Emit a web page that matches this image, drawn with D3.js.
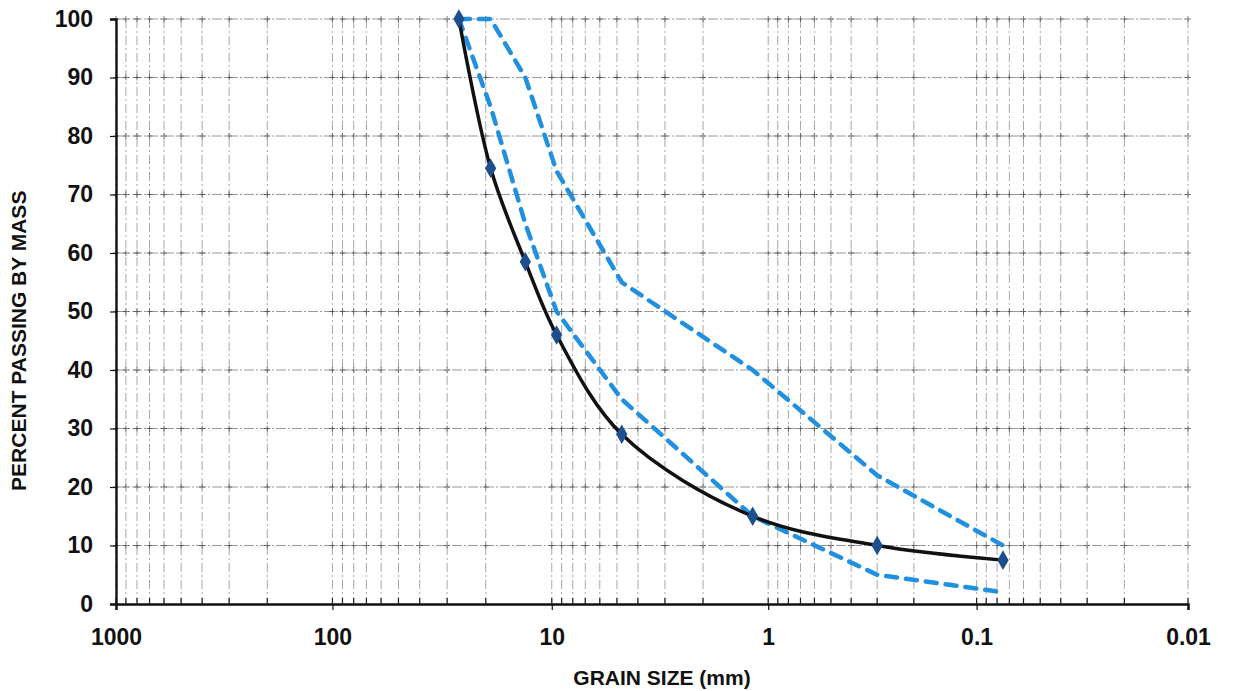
<!DOCTYPE html>
<html>
<head>
<meta charset="utf-8">
<script src="https://cdn.jsdelivr.net/npm/d3@7"></script>
<style>
  body { margin: 0; background: #fff; }
  svg { display: block; }
</style>
</head>
<body>
<div id="wrapper"></div>
<script>
// sieve sizes (mm) and percent passing
const sieveSizes = [26.5, 19, 13.2, 9.5, 4.75, 1.18, 0.3, 0.075]
const samplePassing = [100, 74.5, 58.5, 46, 29, 15, 10, 7.5]
const upperLimit = [100, 100, 90, 74, 55, 40, 22, 10]
const lowerLimit = [100, 85, 65, 50, 35, 15, 5, 2]

const xTickValues = [1000, 100, 10, 1, 0.1, 0.01]
const xTickLabels = ["1000", "100", "10", "1", "0.1", "0.01"]
const yTickValues = [0, 10, 20, 30, 40, 50, 60, 70, 80, 90, 100]

function drawChart() {

  // 1. dimensions
  let dimensions = {
    width: 1249,
    height: 691,
    margin: { top: 19, right: 61, bottom: 87, left: 116 },
  }
  dimensions.boundedWidth = dimensions.width - dimensions.margin.left - dimensions.margin.right
  dimensions.boundedHeight = dimensions.height - dimensions.margin.top - dimensions.margin.bottom

  // 2. canvas
  const wrapper = d3.select("#wrapper")
    .append("svg")
      .attr("width", dimensions.width)
      .attr("height", dimensions.height)
      .style("font-family", "'Liberation Sans', Arial, sans-serif")

  const bounds = wrapper.append("g")
      .attr("transform", `translate(${dimensions.margin.left},${dimensions.margin.top})`)

  // 3. scales (log, reversed; the scanned sheet has slightly uneven decades)
  const bw = dimensions.boundedWidth
  const xScale = d3.scaleLog()
      .domain(xTickValues)
      .range([0, 0.2019, 0.4065, 0.6084, 0.8028, 1].map(f => f * bw))

  const yScale = d3.scaleLinear()
      .domain([0, 100])
      .range([dimensions.boundedHeight, 0])

  // minor log grid values 1..9 per decade
  const gridX = []
  ;[0.01, 0.1, 1, 10, 100].forEach(d => {
    for (let k = 1; k <= 9; k++) gridX.push(+(k * d).toPrecision(3))
  })
  gridX.push(1000)

  // 4. grid
  const grid = bounds.append("g")
  grid.selectAll(".vgrid")
    .data(gridX)
    .join("line")
      .attr("x1", d => xScale(d))
      .attr("x2", d => xScale(d))
      .attr("y1", 0)
      .attr("y2", dimensions.boundedHeight)
      .attr("stroke", "#a8a8a8")
      .attr("stroke-width", 1)
      .attr("stroke-dasharray", "9,3,2,3")

  grid.selectAll(".hgrid")
    .data(yTickValues.slice(1))
    .join("line")
      .attr("x1", 0)
      .attr("x2", bw)
      .attr("y1", d => yScale(d))
      .attr("y2", d => yScale(d))
      .attr("stroke", "#9a9a9a")
      .attr("stroke-width", 1)
      .attr("stroke-dasharray", "10,2,2,2")

  // little crosses at grid intersections (semi-log paper look)
  const crosses = []
  gridX.forEach(x => yTickValues.slice(1).forEach(y => crosses.push([x, y])))
  grid.selectAll(".cross")
    .data(crosses)
    .join("path")
      .attr("d", d => {
        const cx = xScale(d[0]), cy = yScale(d[1])
        return `M${cx - 3},${cy}H${cx + 3}M${cx},${cy - 3}V${cy + 3}`
      })
      .attr("stroke", "#333")
      .attr("stroke-width", 1)
      .attr("opacity", 0.6)

  // 5. axes
  const xAxis = d3.axisBottom(xScale)
      .tickValues(xTickValues)
      .tickFormat((d, i) => xTickLabels[i])
      .tickSize(6)
      .tickPadding(19)
  const xAxisGroup = bounds.append("g")
      .attr("transform", `translate(0,${dimensions.boundedHeight})`)
      .call(xAxis)
  xAxisGroup.select(".domain").attr("stroke", "#111").attr("stroke-width", 2.4)
  xAxisGroup.selectAll(".tick line").attr("stroke", "#111").attr("stroke-width", 1.2)
  xAxisGroup.selectAll("text")
      .attr("font-size", 23)
      .attr("font-weight", "bold")
      .attr("fill", "#111")

  // minor ticks sitting up on the x axis
  xAxisGroup.selectAll(".minor")
    .data(gridX)
    .join("line")
      .attr("x1", d => xScale(d))
      .attr("x2", d => xScale(d))
      .attr("y1", 0)
      .attr("y2", -6)
      .attr("stroke", "#222")
      .attr("stroke-width", 1.2)

  const yAxis = d3.axisLeft(yScale)
      .tickValues(yTickValues)
      .tickSize(6)
      .tickPadding(17)
  const yAxisGroup = bounds.append("g").call(yAxis)
  yAxisGroup.select(".domain").attr("stroke", "#111").attr("stroke-width", 2.4)
  yAxisGroup.selectAll(".tick line").attr("stroke", "#111").attr("stroke-width", 1.2)
  yAxisGroup.selectAll("text")
      .attr("font-size", 23)
      .attr("font-weight", "bold")
      .attr("fill", "#111")

  // 6. data
  const toPoints = vals => sieveSizes.map((s, i) => ({ size: s, pass: vals[i] }))

  const straight = d3.line()
      .x(d => xScale(d.size))
      .y(d => yScale(d.pass))
  const smooth = d3.line()
      .curve(d3.curveCatmullRom.alpha(0.5))
      .x(d => xScale(d.size))
      .y(d => yScale(d.pass))

  ;[upperLimit, lowerLimit].forEach(vals => {
    bounds.append("path")
        .datum(toPoints(vals))
        .attr("d", straight)
        .attr("fill", "none")
        .attr("stroke", "#2290e0")
        .attr("stroke-width", 4.5)
        .attr("stroke-dasharray", "11,9")
        .attr("stroke-linecap", "round")
  })

  bounds.append("path")
      .datum(toPoints(samplePassing))
      .attr("d", smooth)
      .attr("fill", "none")
      .attr("stroke", "#111")
      .attr("stroke-width", 3.5)
      .attr("stroke-linejoin", "round")

  bounds.selectAll(".marker")
    .data(toPoints(samplePassing))
    .join("path")
      .attr("transform", d => `translate(${xScale(d.size)},${yScale(d.pass)})`)
      .attr("d", d3.symbol(d3.symbolDiamond, 110))
      .attr("fill", "#1c4f8c")

  // 7. titles
  wrapper.append("text")
      .attr("x", 662)
      .attr("y", 685)
      .attr("text-anchor", "middle")
      .attr("font-size", 21)
      .attr("font-weight", "bold")
      .attr("fill", "#111")
      .text("GRAIN SIZE (mm)")

  wrapper.append("text")
      .attr("transform", `translate(26,${dimensions.margin.top + yScale(45)}) rotate(-90)`)
      .attr("text-anchor", "middle")
      .attr("font-size", 21)
      .attr("font-weight", "bold")
      .attr("fill", "#111")
      .text("PERCENT PASSING BY MASS")
}

drawChart()
</script>
</body>
</html>
